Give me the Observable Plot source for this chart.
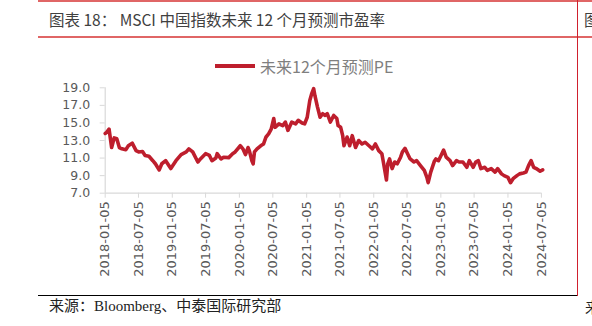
<!DOCTYPE html>
<html>
<head>
<meta charset="utf-8">
<script src="https://cdn.jsdelivr.net/npm/d3@7"></script>
<script src="https://cdn.jsdelivr.net/npm/@observablehq/plot@0.6"></script>
<style>
  html, body { margin: 0; padding: 0; background: #fff; }
  #wrap { position: relative; width: 592px; height: 326px; overflow: hidden; background: #fff; }
  .abs { position: absolute; white-space: nowrap; line-height: 1; }
  #chart { position: absolute; left: 0; top: 40px; }
</style>
</head>
<body>
<div id="wrap">
  <div class="abs" style="left:38px;top:0;width:554px;height:1.5px;background:#e06666"></div>
  <div class="abs" style="left:38px;top:36px;width:554px;height:1.5px;background:#e06666"></div>
  <div class="abs" style="left:577px;top:0;width:1.2px;height:296px;background:#d0202e"></div>
  <div class="abs" id="title" style="left:49px;top:12px;font-family:'Noto Sans CJK SC','Noto Sans',sans-serif;font-size:15.5px;color:#404040"></div>
  <div class="abs" style="left:584px;top:12px;font-family:'Noto Sans CJK SC',sans-serif;font-size:15.5px;color:#404040">图</div>
  <div id="chart"></div>
  <div class="abs" style="left:215px;top:64.3px;width:40px;height:3.6px;background:#be1e2d"></div>
  <div class="abs" id="legend" style="left:260px;top:58px;font-family:'Noto Sans CJK SC','Noto Sans',sans-serif;font-size:16px;color:#7f7f7f"></div>
  <div class="abs" style="left:38px;top:294.5px;width:539px;height:1.5px;background:#000"></div>
  <div class="abs" id="source" style="left:49px;top:299px;font-family:'Liberation Serif','DejaVu Serif','Noto Sans CJK SC',serif;font-size:15px;color:#222"></div>
  <div class="abs" style="left:585px;top:299px;font-family:'Noto Sans CJK SC',serif;font-size:15px;color:#222">来</div>
</div>
<script>
const titleText = "图表 18：  MSCI 中国指数未来 12 个月预测市盈率";
const legendText = "未来12个月预测PE";
const sourceText = "来源：Bloomberg、中泰国际研究部";

const dates = [
"2018-01-05","2018-01-12","2018-01-26","2018-02-09","2018-02-23","2018-03-09","2018-03-23","2018-04-06","2018-04-27","2018-05-11",
"2018-06-01","2018-06-22","2018-07-06","2018-07-27","2018-08-10","2018-08-31","2018-09-21","2018-10-05","2018-10-26","2018-11-09",
"2018-11-30","2018-12-28","2019-01-25","2019-02-22","2019-03-22","2019-04-05","2019-04-26","2019-05-24","2019-06-07","2019-07-05",
"2019-07-26","2019-08-09","2019-08-30","2019-09-06","2019-09-27","2019-10-11","2019-11-08","2019-11-29","2019-12-13","2020-01-10",
"2020-01-24","2020-02-07","2020-02-21","2020-02-28","2020-03-13","2020-03-20","2020-03-27","2020-04-10","2020-04-30","2020-05-15",
"2020-05-29","2020-06-12","2020-06-26","2020-07-10","2020-07-17","2020-08-07","2020-08-28","2020-09-11","2020-09-25","2020-10-16",
"2020-11-06","2020-11-20","2020-12-11","2020-12-25","2021-01-08","2021-01-22","2021-02-01","2021-02-12","2021-02-19","2021-03-05",
"2021-03-19","2021-04-02","2021-04-16","2021-04-27","2021-05-14","2021-06-01","2021-06-18","2021-06-25","2021-07-09","2021-07-20",
"2021-07-27","2021-08-13","2021-08-27","2021-09-10","2021-09-28","2021-10-15","2021-11-02","2021-11-19","2021-12-10","2021-12-29",
"2022-01-14","2022-02-01","2022-02-18","2022-02-25","2022-03-15","2022-03-22","2022-04-01","2022-04-15","2022-04-29","2022-05-13",
"2022-05-31","2022-06-10","2022-06-24","2022-07-08","2022-07-22","2022-08-12","2022-08-26","2022-09-16","2022-10-07","2022-10-21",
"2022-10-28","2022-11-11","2022-11-30","2022-12-09","2022-12-23","2023-01-06","2023-01-20","2023-02-03","2023-02-24","2023-03-10",
"2023-03-31","2023-04-14","2023-05-05","2023-05-26","2023-06-09","2023-06-30","2023-07-14","2023-07-28","2023-08-11","2023-09-01",
"2023-09-15","2023-10-06","2023-10-27","2023-11-10","2023-12-01","2023-12-15","2024-01-05","2024-01-19","2024-02-02","2024-02-23",
"2024-03-08","2024-03-29","2024-04-12","2024-04-26","2024-05-10","2024-05-24","2024-06-07","2024-06-28","2024-07-12"
];
const pe = [
13.8,13.9,14.3,12.2,13.3,13.2,12.2,12.05,11.95,12.4,
12.7,11.85,11.7,11.75,11.3,11.2,10.7,10.35,9.65,10.35,
10.7,9.8,10.7,11.4,11.7,12.05,11.7,10.55,10.9,11.5,
11.3,10.7,11.0,11.5,10.9,11.1,11.05,11.5,11.7,12.4,
12.05,11.4,12.2,11.85,10.7,10.35,11.7,12.05,12.4,12.6,
13.4,13.75,14.3,15.5,14.5,14.9,14.7,15.1,14.15,15.1,
14.9,15.3,15.0,14.9,15.65,17.55,18.3,18.9,18.1,16.8,
15.65,16.05,15.85,16.05,15.1,15.85,15.5,14.7,14.5,13.55,
12.4,13.4,12.4,13.55,12.2,13.0,12.6,12.8,12.4,12.05,
12.6,11.85,11.5,10.7,8.5,10.35,10.9,9.8,10.55,10.35,
11.1,11.7,12.1,11.5,10.9,10.55,10.7,10.15,9.6,8.8,
8.2,9.4,10.6,10.9,10.7,11.3,11.9,11.1,10.7,10.15,
10.7,10.55,10.55,9.95,10.7,9.95,10.55,10.7,9.8,9.95,
9.6,9.8,9.4,9.8,9.2,9.0,8.8,8.2,8.65,9.0,
9.2,9.3,9.4,10.15,10.7,9.95,9.8,9.5,9.65
];
const xTickLabels = ["2018-01-05","2018-07-05","2019-01-05","2019-07-05","2020-01-05","2020-07-05","2021-01-05",
  "2021-07-05","2022-01-05","2022-07-05","2023-01-05","2023-07-05","2024-01-05","2024-07-05"];
const yTicks = [7, 9, 11, 13, 15, 17, 19];

document.getElementById("title").textContent = titleText;
document.getElementById("legend").textContent = legendText;
document.getElementById("source").textContent = sourceText;

const parse = d3.utcParse("%Y-%m-%d");
const data = dates.map((d, i) => ({date: parse(d), pe: pe[i]}));
const xTicks = xTickLabels.map(parse);
const x0 = xTicks[0], x1 = xTicks[xTicks.length - 1];

const chart = Plot.plot({
  width: 592,
  height: 250,
  marginLeft: 104.7,
  marginRight: 51.1,
  marginTop: 47.3,
  marginBottom: 97.3,
  style: {fontFamily: "'DejaVu Sans', sans-serif", background: "transparent", overflow: "visible"},
  x: {type: "utc", domain: [x0, x1], label: null},
  y: {domain: [7, 19], label: null},
  marks: [
    Plot.ruleX([x0], {y1: 7, y2: 19, stroke: "#d9d9d9", strokeWidth: 1.2}),
    Plot.ruleY([7], {x1: x0, x2: x1, stroke: "#d9d9d9", strokeWidth: 1.2}),
    Plot.axisY({ticks: yTicks, tickFormat: d => d.toFixed(1), tickSize: 5, tickPadding: 10, label: null,
      stroke: "#d9d9d9", fill: "#595959", fontSize: 12.5, strokeOpacity: 1}),
    Plot.axisX({ticks: xTicks, tickFormat: d3.utcFormat("%Y-%m-%d"), tickRotate: -90, tickSize: 5, tickPadding: 3, label: null,
      stroke: "#d9d9d9", fill: "#595959", fontSize: 13, strokeOpacity: 1}),
    Plot.lineY(data, {x: "date", y: "pe", stroke: "#be1e2d", strokeWidth: 3.6, strokeLinejoin: "round", strokeLinecap: "round", clip: false})
  ]
});
document.getElementById("chart").appendChild(chart);
</script>
</body>
</html>
